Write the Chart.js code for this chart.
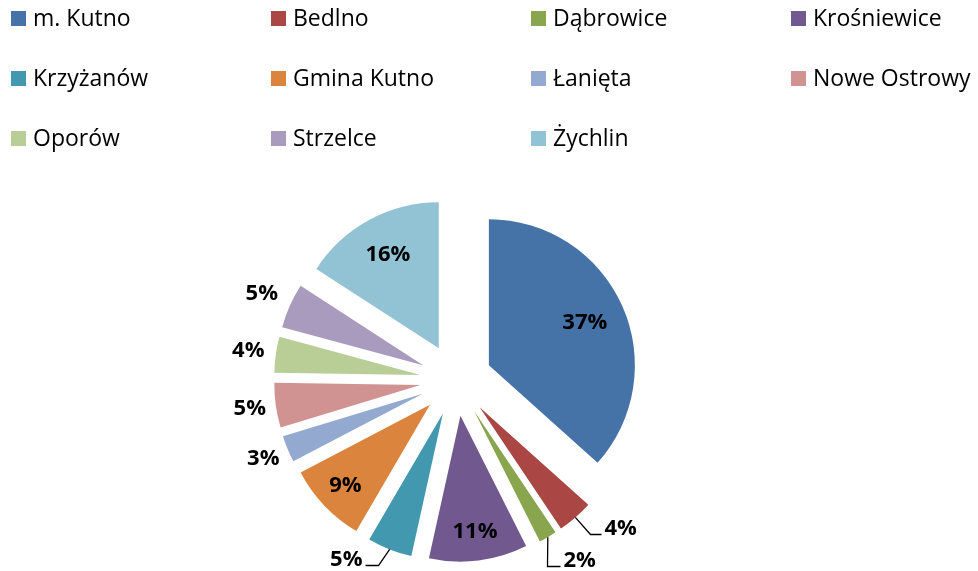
<!DOCTYPE html>
<html>
<head>
<meta charset="utf-8">
<script src="https://cdn.jsdelivr.net/npm/chart.js@4.4.1/dist/chart.umd.min.js"></script>
<style>
  html, body { margin: 0; padding: 0; background: #fff; }
  #wrap { position: relative; width: 978px; height: 571px; }
  #legend { position: absolute; left: 0; top: 0; width: 978px; height: 160px; font-family: "Open Sans", sans-serif; font-size: 23px; color: #000; }
  .item { position: absolute; height: 15px; display: flex; align-items: center; white-space: nowrap; }
  .box { width: 15px; height: 15px; margin-right: 7px; flex: none; }
  .txt { line-height: 23px; position: relative; top: -1px; }
</style>
</head>
<body>
<div id="wrap">
  <canvas id="pie"></canvas>
  <div id="legend"></div>
</div>
<script>
const labels = ["m. Kutno", "Bedlno", "Dąbrowice", "Krośniewice", "Krzyżanów", "Gmina Kutno",
  "Łanięta", "Nowe Ostrowy", "Oporów", "Strzelce", "Żychlin"];
const shares = [37, 4, 2, 11, 5, 9, 3, 5, 4, 5, 16];
const colors = ["#4572A7", "#AA4643", "#89A54E", "#71588F", "#4198AF", "#DB843D",
  "#93A9CF", "#D19392", "#B9CD96", "#A99BBD", "#92C3D4"];

const EXPLODE = 36;
// label placement: number = fraction of radius along the slice's middle,
// object = leader line [elbow dx, elbow dy, horizontal run] from the outer edge
const labelPlace = [0.72, { leader: [15, 17, 11] }, { leader: [-1, 29, 13] }, 0.8,
  { leader: [-12, 16, -13] }, 0.8, 1.18, 1.18, 1.19, 1.21, 0.73];

// legend, 4 columns
const legendEl = document.getElementById("legend");
labels.forEach((name, i) => {
  const col = i % 4, row = Math.floor(i / 4);
  const el = document.createElement("div");
  el.className = "item";
  el.style.left = (11 + col * 260) + "px";
  el.style.top = (11 + row * 60) + "px";
  el.innerHTML = `<span class="box" style="background:${colors[i]}"></span><span class="txt">${name}</span>`;
  legendEl.appendChild(el);
});

// draw each slice pushed out from the centre
const explode = {
  id: "explode",
  beforeDatasetDraw(chart, args) {
    const ctx = chart.ctx;
    args.meta.data.forEach(arc => {
      const mid = (arc.startAngle + arc.endAngle) / 2;
      ctx.save();
      ctx.translate(Math.cos(mid) * EXPLODE, Math.sin(mid) * EXPLODE);
      arc.draw(ctx);
      ctx.restore();
    });
    return false;
  }
};

const pctLabels = {
  id: "pctLabels",
  afterDatasetsDraw(chart) {
    const ctx = chart.ctx;
    const meta = chart.getDatasetMeta(0);
    ctx.save();
    ctx.font = "bold 22px 'Open Sans', sans-serif";
    ctx.fillStyle = "#000";
    ctx.strokeStyle = "#000";
    ctx.lineWidth = 1.3;
    ctx.textBaseline = "middle";
    meta.data.forEach((arc, i) => {
      const mid = (arc.startAngle + arc.endAngle) / 2;
      const r = arc.outerRadius;
      const cx = arc.x + Math.cos(mid) * EXPLODE;
      const cy = arc.y + Math.sin(mid) * EXPLODE;
      const text = shares[i] + "%";
      const p = labelPlace[i];
      if (typeof p === "number") {
        ctx.textAlign = "center";
        ctx.fillText(text, cx + Math.cos(mid) * r * p, cy + Math.sin(mid) * r * p);
      } else {
        const ox = cx + Math.cos(mid) * r, oy = cy + Math.sin(mid) * r;
        const [dx, dy, run] = p.leader;
        const ex = Math.round(ox + dx) + 0.5, ey = Math.round(oy + dy) + 0.5;
        ctx.beginPath();
        ctx.moveTo(ox, oy);
        ctx.lineTo(ex, ey);
        ctx.lineTo(ex + run, ey);
        ctx.stroke();
        ctx.textAlign = run < 0 ? "right" : "left";
        ctx.fillText(text, ex + run + (run < 0 ? -3 : 3), ey - 6);
      }
    });
    ctx.restore();
  }
};

new Chart(document.getElementById("pie"), {
  type: "pie",
  data: {
    labels: labels,
    datasets: [{ data: shares, backgroundColor: colors, borderWidth: 0 }]
  },
  options: {
    responsive: true,
    maintainAspectRatio: false,
    animation: false,
    radius: 146,
    layout: { padding: { left: 0, right: 66, top: 189, bottom: 0 } },
    plugins: { legend: { display: false }, tooltip: { enabled: false } }
  },
  plugins: [explode, pctLabels]
});
</script>
</body>
</html>
